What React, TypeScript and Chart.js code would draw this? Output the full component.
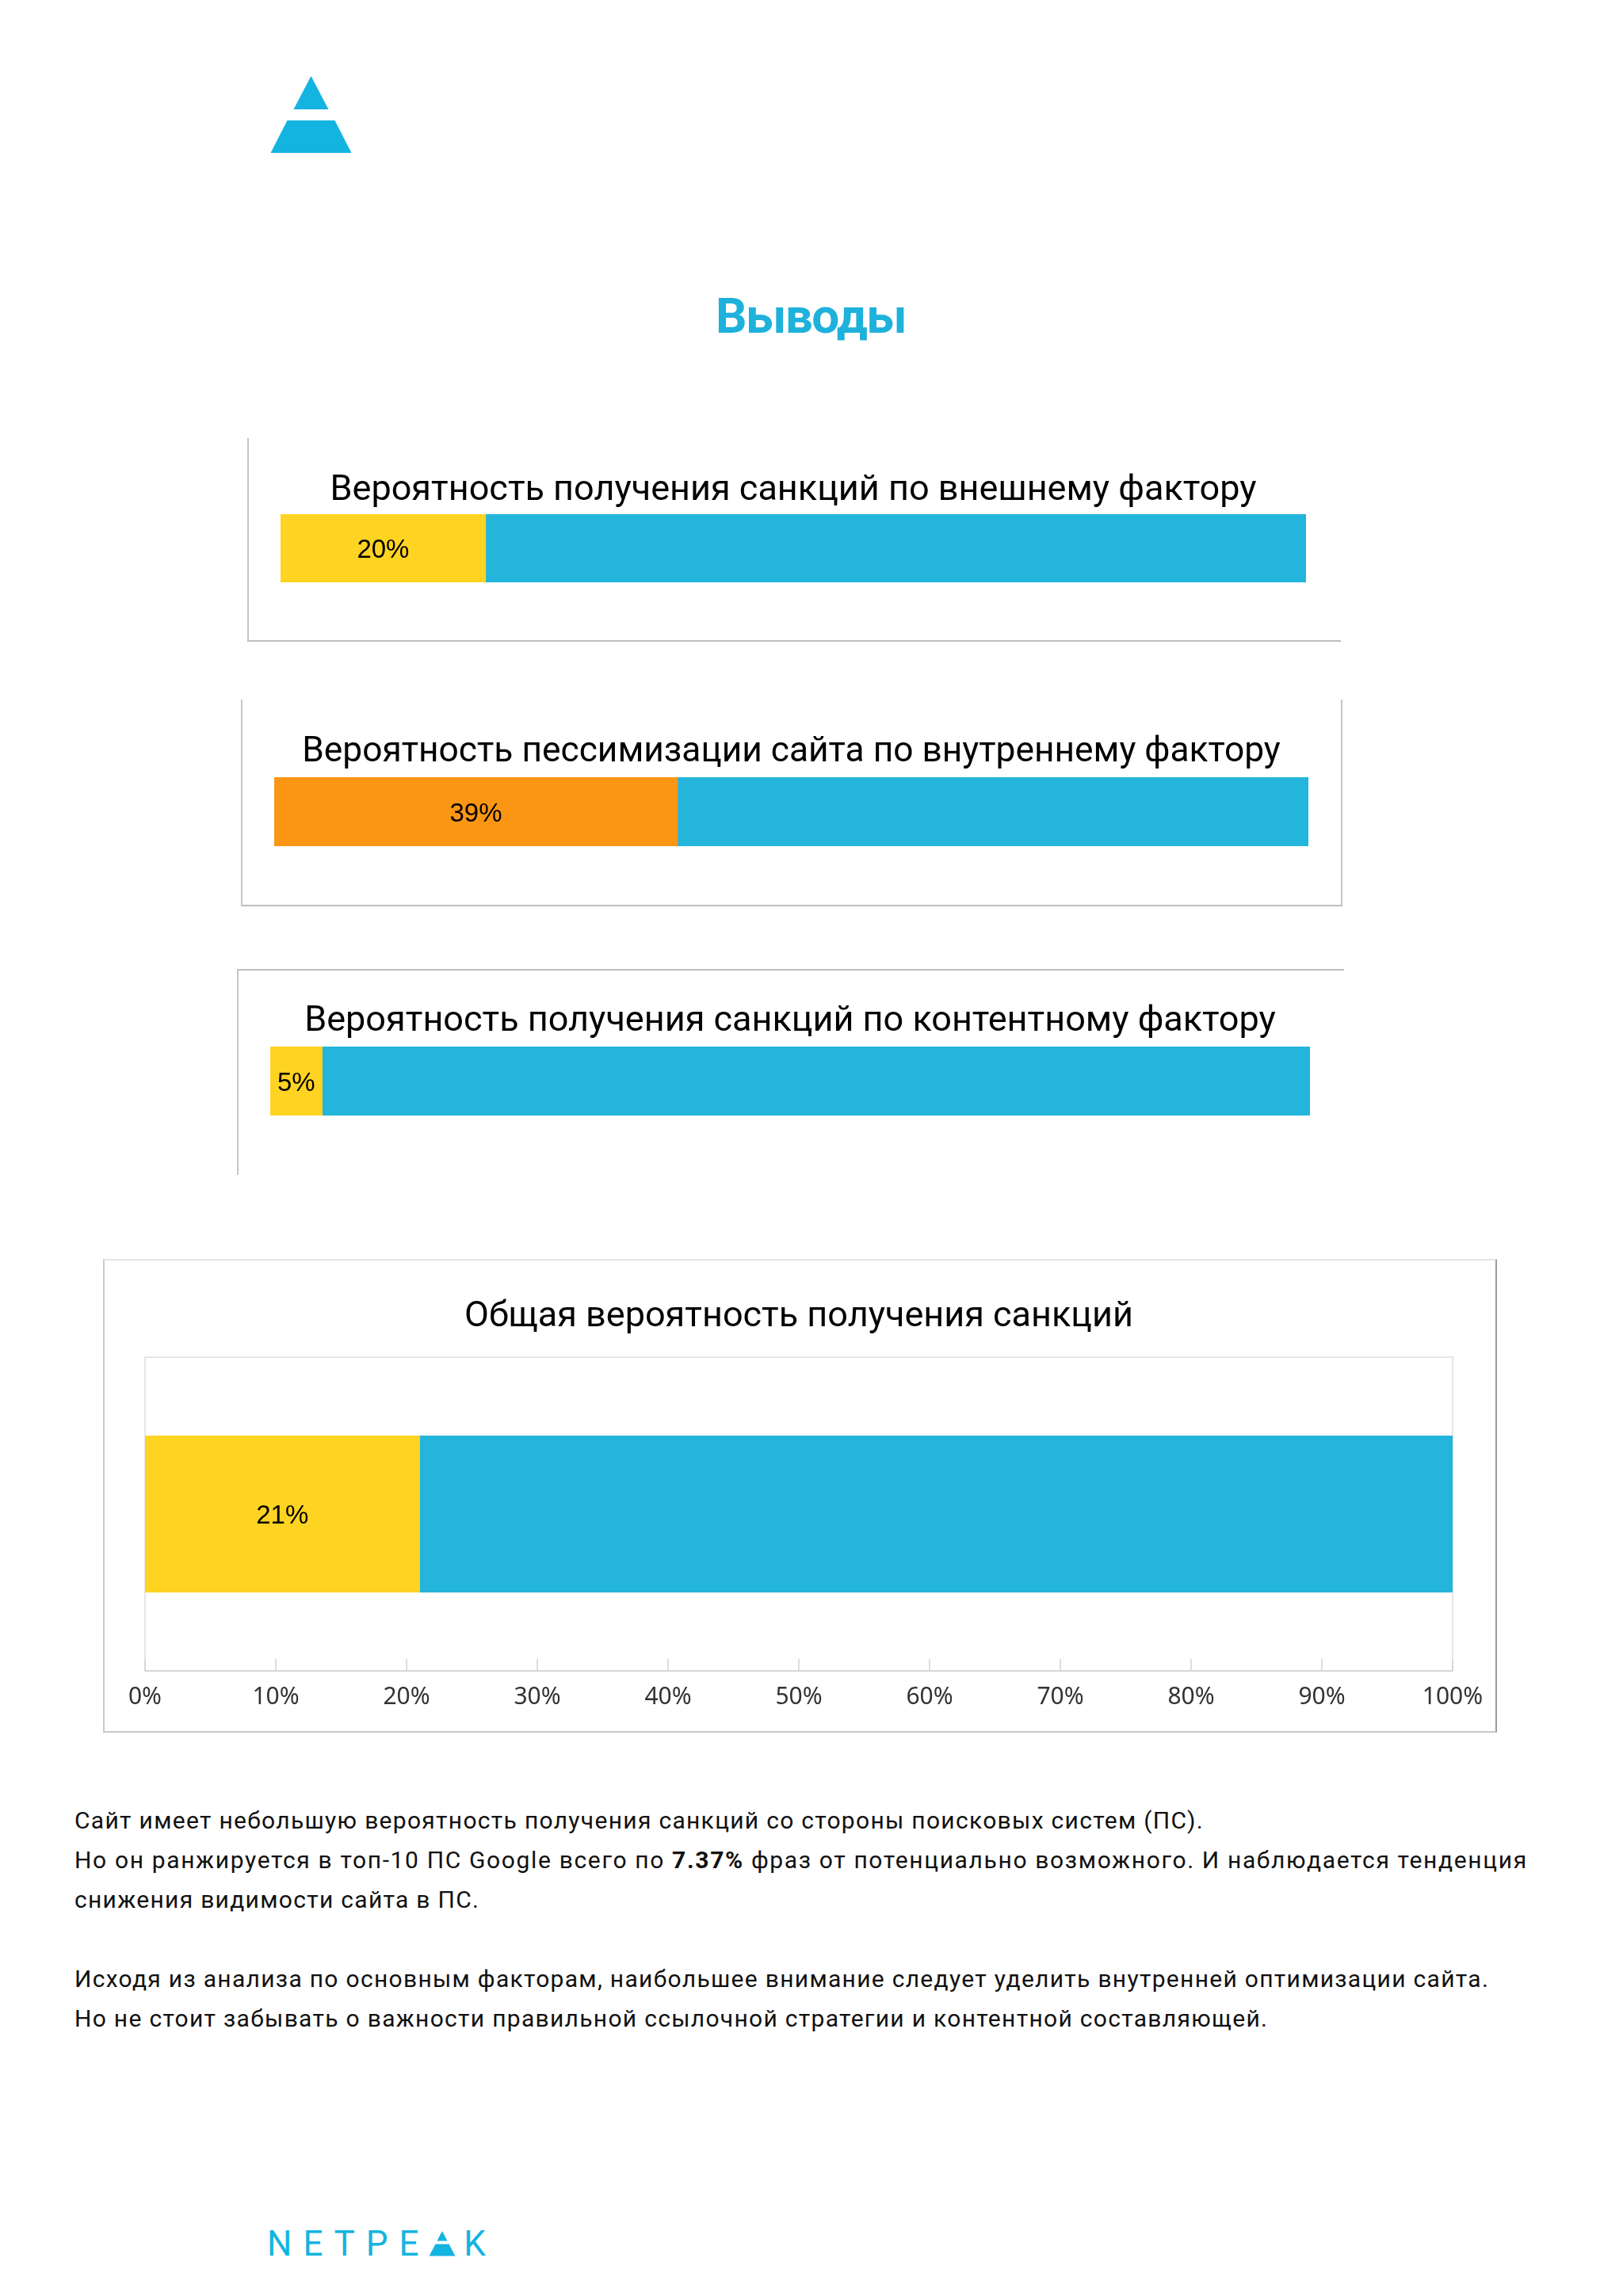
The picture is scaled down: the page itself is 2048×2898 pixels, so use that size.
import React, { useEffect, useRef } from 'react';
import { Chart, registerables } from 'chart.js';

Chart.register(...registerables);

// ---------- data ----------
const pageTitle = 'Выводы';
const factorTitles = [
  'Вероятность получения санкций по внешнему фактору',
  'Вероятность пессимизации сайта по внутреннему фактору',
  'Вероятность получения санкций по контентному фактору',
];
const factorShares = [20, 39, 5];
const factorRests = [80, 61, 95];
const factorColors = ['#FED322', '#FB9614', '#FED322'];
const totalTitle = 'Общая вероятность получения санкций';
const totalShare = [21];
const totalRest = [79];
const axisTickLabels = ['0%', '10%', '20%', '30%', '40%', '50%', '60%', '70%', '80%', '90%', '100%'];
const bodyLines = [
  ['Сайт имеет небольшую вероятность получения санкций со стороны поисковых систем (ПС).'],
  ['Но он ранжируется в топ-10 ПС Google всего по ', '7.37%', ' фраз от потенциально возможного. И наблюдается тенденция'],
  ['снижения видимости сайта в ПС.'],
  [''],
  ['Исходя из анализа по основным факторам, наибольшее внимание следует уделить внутренней оптимизации сайта.'],
  ['Но не стоит забывать о важности правильной ссылочной стратегии и контентной составляющей.'],
];

// ---------- styles ----------
const BLUE = '#23B5DB';
const BRAND = '#14B4E0';
const TITLE_FONT = 'Roboto';

const segmentLabelPlugin = {
  id: 'segmentLabel',
  afterDatasetsDraw(chart: any) {
    const meta = chart.getDatasetMeta(0);
    const ds = chart.data.datasets[0];
    const ctx = chart.ctx;
    ctx.save();
    ctx.font = '33px "Liberation Sans", Arial, sans-serif';
    ctx.fillStyle = '#000';
    ctx.textAlign = 'center';
    ctx.textBaseline = 'middle';
    meta.data.forEach((el: any, i: number) => {
      const p = el.getProps(['x', 'base', 'y'], true);
      ctx.fillText(ds.data[i] + '%', (p.x + p.base) / 2, p.y + 3);
    });
    ctx.restore();
  },
};

const plotFramePlugin = {
  id: 'plotFrame',
  beforeDatasetsDraw(chart: any) {
    const a = chart.chartArea;
    const ctx = chart.ctx;
    ctx.save();
    ctx.strokeStyle = '#DEDEDE';
    ctx.lineWidth = 1.5;
    ctx.strokeRect(a.left, a.top, a.right - a.left, a.bottom - a.top);
    ctx.restore();
  },
  afterDatasetsDraw(chart: any) {
    const a = chart.chartArea;
    const ctx = chart.ctx;
    const xs = chart.scales.x;
    ctx.save();
    ctx.strokeStyle = '#D2D2D2';
    ctx.lineWidth = 1.5;
    ctx.beginPath();
    ctx.moveTo(a.left, a.bottom);
    ctx.lineTo(a.right, a.bottom);
    xs.ticks.forEach((t: any) => {
      const px = xs.getPixelForValue(t.value);
      ctx.moveTo(px, a.bottom - 15);
      ctx.lineTo(px, a.bottom);
    });
    ctx.stroke();
    ctx.restore();
  },
};

type Box = { left: number; top: number; width: number; height: number };

function Panel({ box, borders, children }: { box: Box; borders: any; children: any }) {
  return (
    <div style={{ position: 'absolute', left: box.left, top: box.top, width: box.width, height: box.height }}>
      {children}
      <div
        style={{
          position: 'absolute', left: 0, top: 0, width: '100%', height: '100%', boxSizing: 'border-box',
          pointerEvents: 'none', ...borders,
        }}
      />
    </div>
  );
}

function FactorChart({ index, box, pad, titlePad, titleSize, borders }: any) {
  const ref = useRef<HTMLCanvasElement>(null);
  useEffect(() => {
    const chart = new Chart(ref.current as HTMLCanvasElement, {
      type: 'bar',
      data: {
        labels: [factorTitles[index]],
        datasets: [
          { data: [factorShares[index]], backgroundColor: factorColors[index], barPercentage: 1, categoryPercentage: 1, borderWidth: 0 },
          { data: [factorRests[index]], backgroundColor: BLUE, barPercentage: 1, categoryPercentage: 1, borderWidth: 0 },
        ],
      },
      options: {
        indexAxis: 'y',
        responsive: false,
        animation: false,
        layout: { padding: { left: pad.left, right: pad.right, bottom: pad.bottom, top: 0 } },
        scales: {
          x: { stacked: true, min: 0, max: 100, display: false },
          y: { stacked: true, display: false },
        },
        plugins: {
          legend: { display: false },
          tooltip: { enabled: false },
          title: {
            display: true,
            text: factorTitles[index],
            color: '#000',
            font: { family: TITLE_FONT, size: titleSize, weight: 'normal', lineHeight: 54 / titleSize },
            padding: { top: titlePad.top, bottom: titlePad.bottom },
          },
        },
      },
      plugins: [segmentLabelPlugin],
    } as any);
    return () => chart.destroy();
  }, []);
  return (
    <Panel box={box} borders={borders}>
      <canvas ref={ref} width={box.width} height={box.height} style={{ display: 'block', width: box.width, height: box.height }} />
    </Panel>
  );
}

function TotalChart({ box }: { box: Box }) {
  const ref = useRef<HTMLCanvasElement>(null);
  useEffect(() => {
    const chart = new Chart(ref.current as HTMLCanvasElement, {
      type: 'bar',
      data: {
        labels: [totalTitle],
        datasets: [
          { data: totalShare, backgroundColor: '#FED322', barPercentage: 0.5, categoryPercentage: 1, borderWidth: 0 },
          { data: totalRest, backgroundColor: BLUE, barPercentage: 0.5, categoryPercentage: 1, borderWidth: 0 },
        ],
      },
      options: {
        indexAxis: 'y',
        responsive: false,
        animation: false,
        layout: { padding: { left: 53, right: 56, bottom: 12, top: 0 } },
        scales: {
          x: {
            stacked: true,
            min: 0,
            max: 100,
            grid: { display: false, drawTicks: false },
            border: { display: false },
            ticks: {
              stepSize: 10,
              padding: 15,
              color: '#333',
              font: { family: 'Noto Sans', size: 30, lineHeight: 1.2 },
              callback: (_v: any, i: number) => axisTickLabels[i],
            },
          },
          y: { stacked: true, display: false },
        },
        plugins: {
          legend: { display: false },
          tooltip: { enabled: false },
          title: {
            display: true,
            text: totalTitle,
            color: '#000',
            font: { family: TITLE_FONT, size: 45, weight: 'normal', lineHeight: 1.2 },
            padding: { top: 47, bottom: 23 },
          },
        },
      },
      plugins: [plotFramePlugin, segmentLabelPlugin],
    } as any);
    return () => chart.destroy();
  }, []);
  return (
    <Panel
      box={box}
      borders={{
        borderTop: '2px solid #E4E4E4',
        borderLeft: '2px solid #CACACA',
        borderBottom: '2px solid #C8C8C8',
        borderRight: '2px solid #9A9A9A',
      }}
    >
      <canvas ref={ref} width={box.width} height={box.height} style={{ display: 'block', width: box.width, height: box.height }} />
    </Panel>
  );
}

function PyramidLogo() {
  return (
    <svg width={104} height={100} viewBox="0 0 104 100" style={{ position: 'absolute', left: 341, top: 95 }}>
      <polygon points="51.5,1 29.5,43 73.5,43" fill={BRAND} />
      <polygon points="21.5,57 81.5,57 102.5,98 0.5,98" fill={BRAND} />
    </svg>
  );
}

function FooterBrand() {
  const letter = { display: 'inline-block', marginRight: 14 } as const;
  return (
    <div
      style={{
        position: 'absolute', left: 337, top: 2810, fontFamily: 'Roboto', fontSize: 44, lineHeight: '44px',
        color: BRAND, whiteSpace: 'nowrap', fontWeight: 400,
      }}
    >
      {['N', 'E', 'T', 'P', 'E'].map((c, i) => (
        <span key={i} style={letter}>{c}</span>
      ))}
      <span style={{ ...letter, position: 'relative', color: 'transparent' }}>
        A
        <svg width={36} height={34} viewBox="0 0 36 34" style={{ position: 'absolute', left: -2, top: 5 }}>
          <polygon points="18,1 11.5,13.5 24.5,13.5" fill={BRAND} />
          <polygon points="9.5,17.5 26.5,17.5 34.5,32.5 1.5,32.5" fill={BRAND} />
        </svg>
      </span>
      <span style={{ display: 'inline-block' }}>K</span>
    </div>
  );
}

export default function App() {
  useEffect(() => {
    document.body.style.margin = '0';
  }, []);
  return (
    <div style={{ position: 'absolute', left: 0, top: 0, width: 2048, height: 2898, background: '#fff', overflow: 'hidden' }}>
      <PyramidLogo />
      <div
        style={{
          position: 'absolute', left: 0, top: 359, width: 2046, textAlign: 'center', fontFamily: 'Roboto',
          fontWeight: 700, fontSize: 62, letterSpacing: '-1.5px', lineHeight: '80px', color: '#1EB1DB',
        }}
      >
        {pageTitle}
      </div>

      <FactorChart
        index={0}
        box={{ left: 312, top: 553, width: 1380, height: 257 }}
        pad={{ left: 42, right: 44, bottom: 75 }}
        titlePad={{ top: 40, bottom: 2 }}
        titleSize={45}
        borders={{ borderLeft: '2px solid #C6C6C6', borderBottom: '2px solid #BEBEBE' }}
      />
      <FactorChart
        index={1}
        box={{ left: 304, top: 883, width: 1390, height: 261 }}
        pad={{ left: 42, right: 43, bottom: 76 }}
        titlePad={{ top: 40, bottom: 4 }}
        titleSize={44.3}
        borders={{ borderLeft: '2px solid #C6C6C6', borderRight: '2px solid #C6C6C6', borderBottom: '2px solid #BEBEBE' }}
      />
      <FactorChart
        index={2}
        box={{ left: 299, top: 1223, width: 1397, height: 260 }}
        pad={{ left: 42, right: 43, bottom: 75 }}
        titlePad={{ top: 40, bottom: 4 }}
        titleSize={45}
        borders={{ borderLeft: '2px solid #C6C6C6', borderTop: '2px solid #BEBEBE' }}
      />

      <TotalChart box={{ left: 130, top: 1589, width: 1759, height: 598 }} />

      <div
        style={{
          position: 'absolute', left: 94, top: 2273, fontFamily: 'Roboto', fontSize: 30, letterSpacing: '1.3px',
          lineHeight: '50px', color: '#111', whiteSpace: 'nowrap',
        }}
      >
        {bodyLines.map((parts, i) => (
          <div key={i} style={{ height: 50, letterSpacing: i === 1 ? '1.65px' : undefined }}>
            {parts.map((p, j) => (
              <span key={j} style={{ fontWeight: p === '7.37%' ? 700 : 400 }}>{p}</span>
            ))}
          </div>
        ))}
      </div>

      <FooterBrand />
    </div>
  );
}
